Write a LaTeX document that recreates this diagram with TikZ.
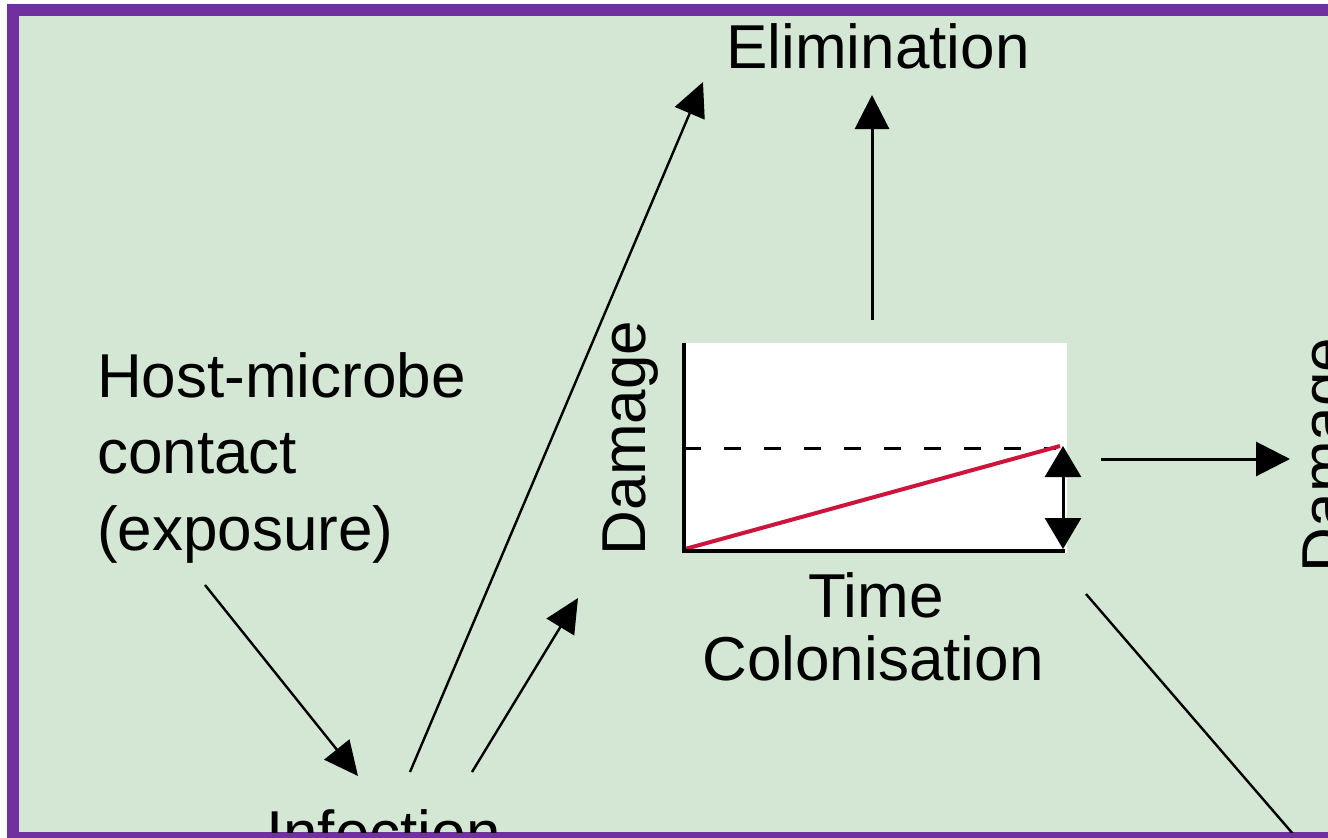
\documentclass[tikz,border=0pt]{standalone}
\usepackage{fontspec}
\setmainfont{Liberation Sans}
\usetikzlibrary{arrows.meta}
\definecolor{bggreen}{RGB}{212,231,212}
\definecolor{framepurple}{RGB}{112,48,160}
\definecolor{curvered}{RGB}{205,20,60}
\tikzset{
  lbl/.style={inner sep=0pt, font=\fontsize{62}{75}\selectfont},
  arr/.style={line width=3pt, -{Triangle[width=34pt,length=34pt]}},
  thinarr/.style={line width=2.4pt, -{Triangle[width=32pt,length=34pt]}},
  thinline/.style={line width=2.4pt},
  axis/.style={line width=4.5pt},
}
\begin{document}
\begin{tikzpicture}[x=1pt,y=-1pt]
\useasboundingbox (0,0) rectangle (1328,838);
\fill[white] (0,0) rectangle (1328,838);
\fill[framepurple] (7,4) rectangle (1340,850);
\begin{scope}
\clip (19,16) rectangle (1340,832);
\fill[bggreen] (19,16) rectangle (1340,832);

% texts
\node[lbl, anchor=base] (elim) at (878,68) {Elimination};
\node[lbl, anchor=base west] (host) at (97,397) {Host-microbe};
\node[lbl, anchor=base west] (cont) at (97,473) {contact};
\node[lbl, anchor=base west] (expo) at (97,550) {(exposure)};
\node[lbl, anchor=base] (time) at (876,617) {Time};
\node[lbl, anchor=base] (colo) at (873,680) {Colonisation};
\node[lbl, anchor=base west] (infe) at (266,854) {Infection};
\node[lbl, anchor=base, rotate=90] (dmg) at (645,438) {Damage};
\node[lbl, anchor=base, rotate=90] (dmgr) at (1345,455) {Damage};

% plot box
\fill[white] (682,343) rectangle (1067,553);
\coordinate (o) at (684,551);
\coordinate (ytop) at (684,343);
\coordinate (xend) at (1065,551);
\coordinate (dl) at (684,448);
\coordinate (dr) at (1056,448);
\coordinate (rs) at (685,549);
\coordinate (re) at (1060,446);
\coordinate (da) at (1063,446);
\coordinate (db) at (1063,549);
\draw[line width=3pt, dash pattern=on 17pt off 23pt] (dl) -- (dr);
\draw[curvered, line width=4pt] (rs) -- (re);
\draw[line width=3pt, {Triangle[width=36pt,length=31pt]}-{Triangle[width=36pt,length=31pt]}] (da) -- (db);
\draw[axis] (ytop) -- (o) -- (xend);

% connectors
\coordinate (elimS) at (872,320);
\coordinate (elimT) at (872,95);
\draw[arr] (elimS) -- (elimT);

\coordinate (longS) at (410,772);
\coordinate (longT) at (703,82);
\draw[thinarr] (longS) -- (longT);

\coordinate (shortS) at (472,772);
\coordinate (shortT) at (578,598);
\draw[thinarr] (shortS) -- (shortT);

\coordinate (hostS) at (205,585);
\coordinate (hostT) at (358,776);
\draw[thinarr] (hostS) -- (hostT);

\coordinate (rightS) at (1101,459);
\coordinate (rightT) at (1290,459);
\draw[arr] (rightS) -- (rightT);

\coordinate (diagS) at (1086,594);
\coordinate (diagT) at (1300,842);
\draw[thinline] (diagS) -- (diagT);
\end{scope}
\end{tikzpicture}
\end{document}
